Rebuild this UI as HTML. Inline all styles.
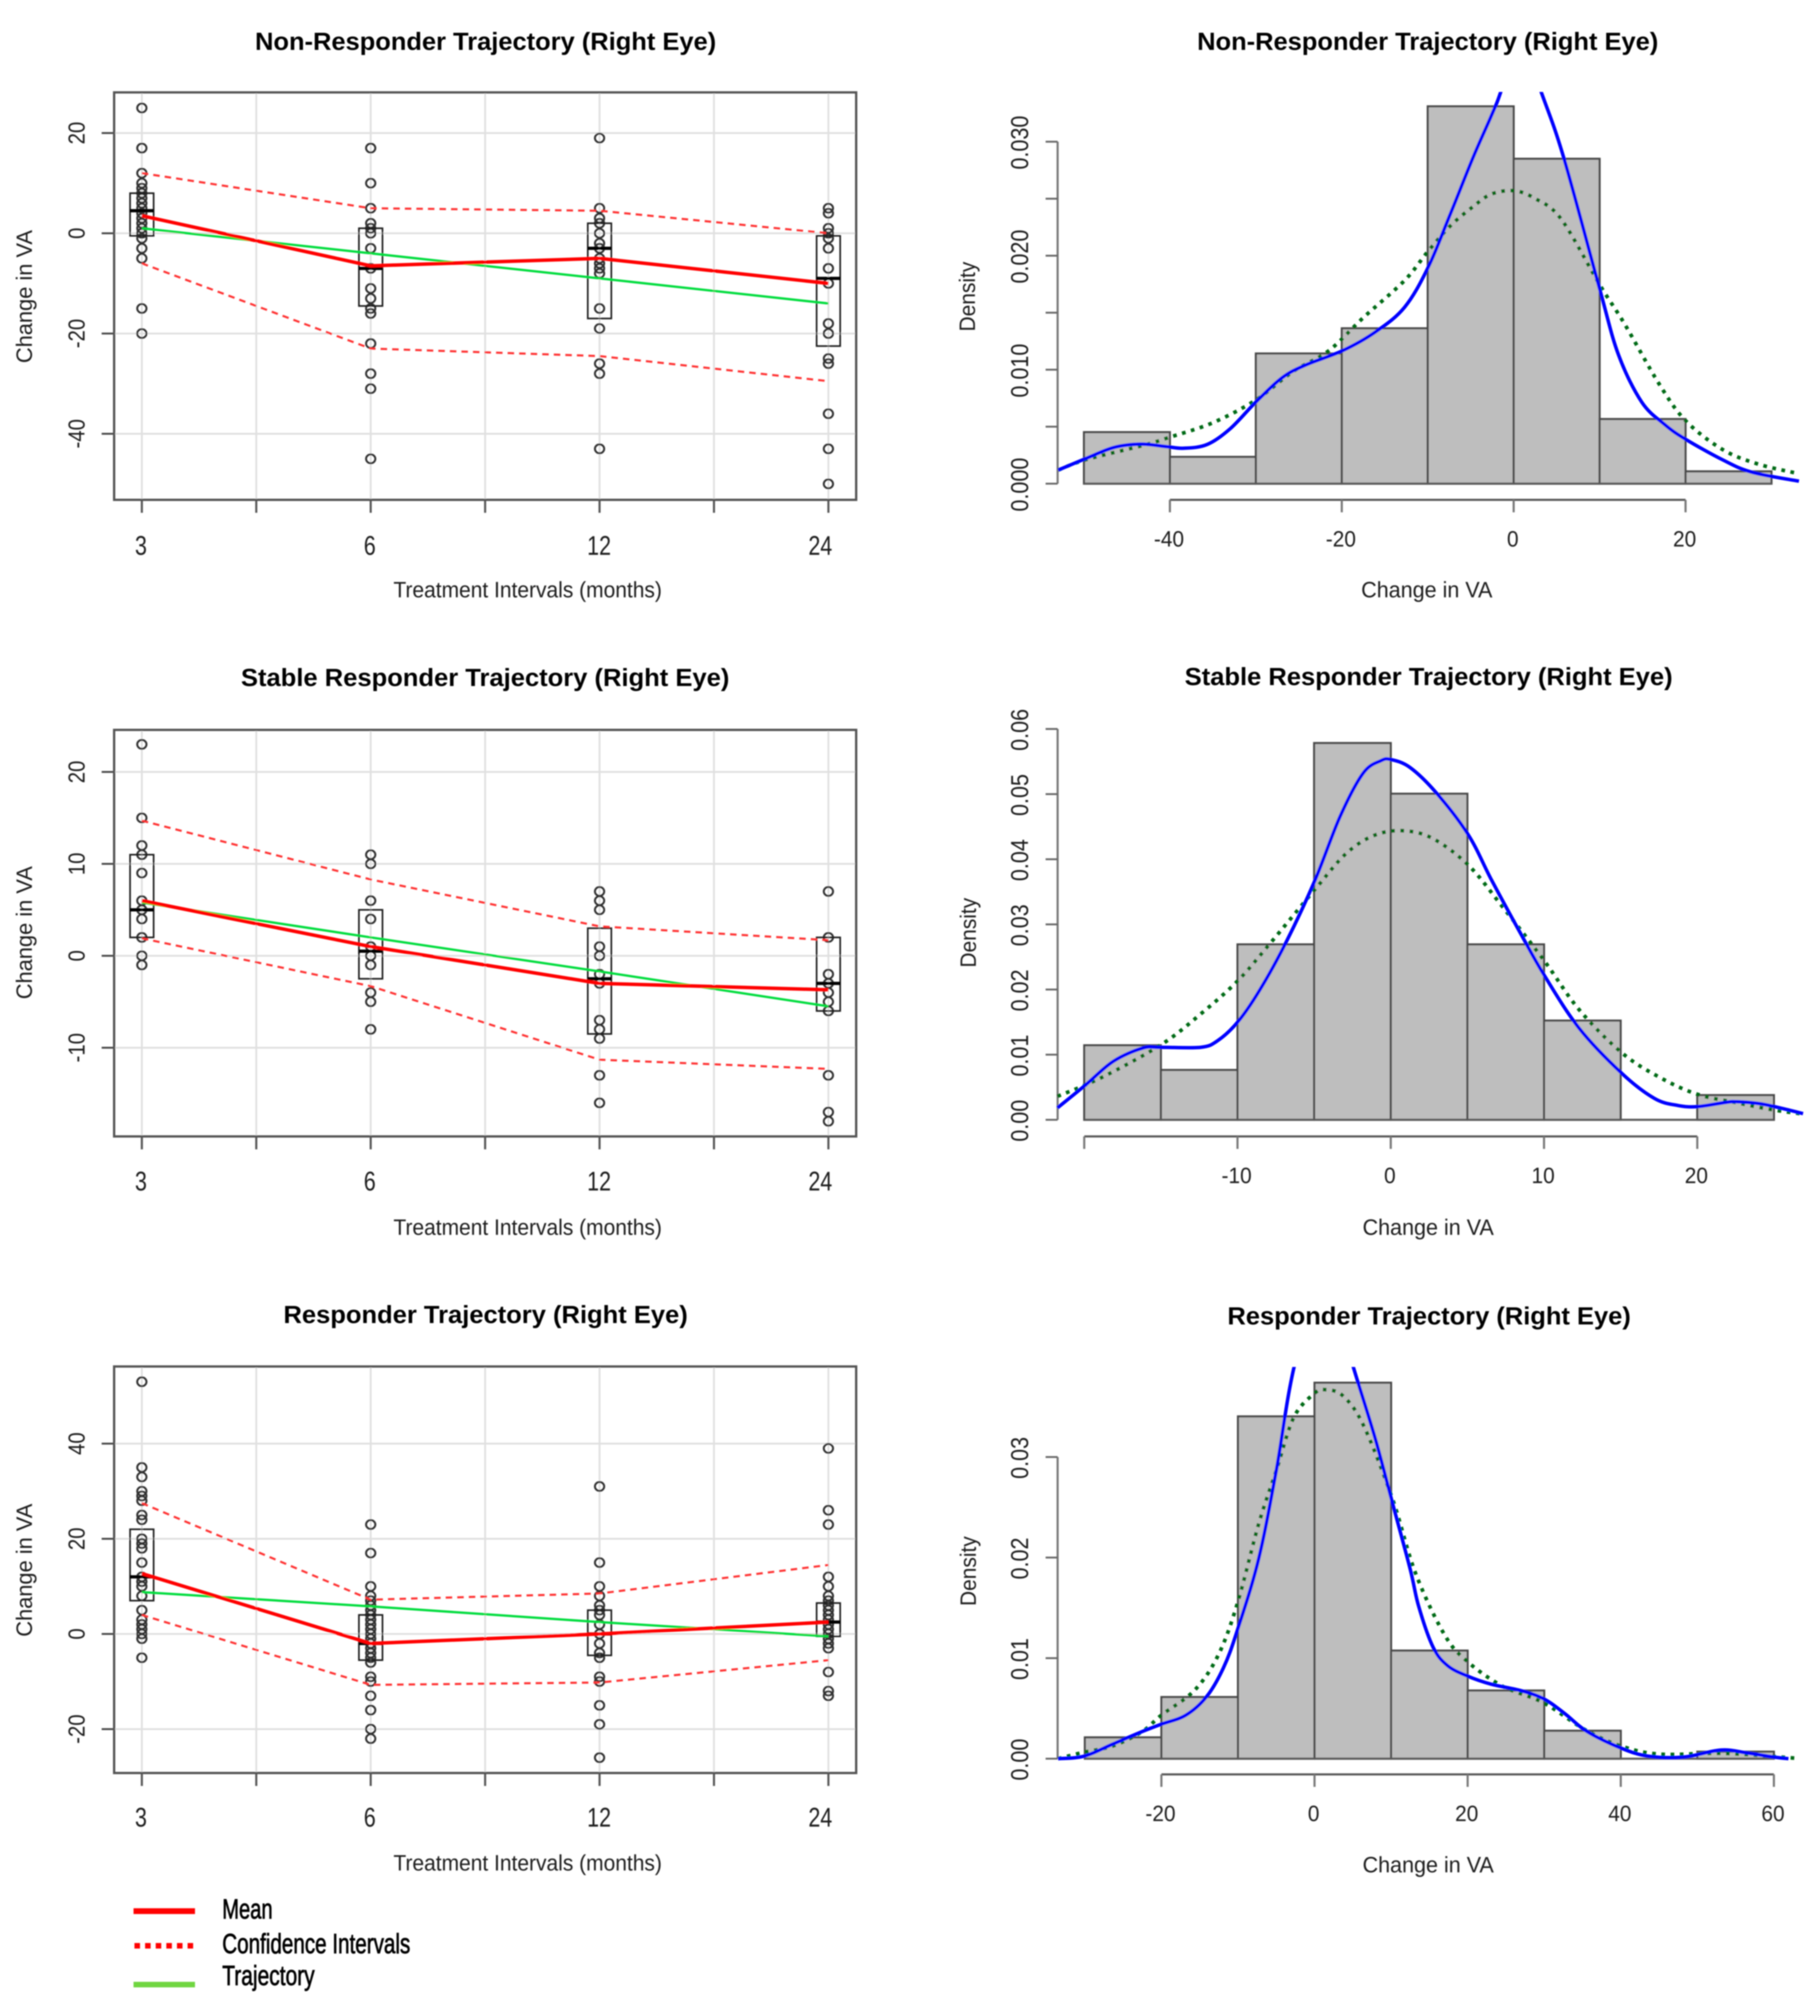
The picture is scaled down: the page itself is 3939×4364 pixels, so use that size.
<!DOCTYPE html>
<html lang="en">
<head>
<meta charset="utf-8">
<title>Responder Trajectories (Right Eye)</title>
<style>
html,body{margin:0;padding:0;background:#fff;}
svg{display:block;}
text{font-family:"Liberation Sans",sans-serif;fill:#1a1a1a;}
.title{font-weight:bold;font-size:54px;fill:#000;}
.axt{font-size:48px;}
.leg{font-size:60px;fill:#000;stroke:#000;stroke-width:1.4px;}
</style>
</head>
<body>
<svg id="figure" xmlns="http://www.w3.org/2000/svg" width="3939" height="4364" viewBox="0 0 3939 4364">
<defs>
<filter id="soft" x="0" y="0" width="100%" height="100%" filterUnits="userSpaceOnUse"><feGaussianBlur stdDeviation="1.3"/></filter>
<clipPath id="clip-h1"><rect x="2200" y="199" width="1739" height="1000"/></clipPath>
<clipPath id="clip-h2"><rect x="2200" y="1579" width="1739" height="1000"/></clipPath>
<clipPath id="clip-h3"><rect x="2200" y="2959" width="1739" height="1000"/></clipPath>
</defs>
<rect width="3939" height="4364" fill="#fff"/>
<g id="root" filter="url(#soft)">
<g id="static-text">
<text class="title" x="1051" y="108" text-anchor="middle" textLength="998" lengthAdjust="spacingAndGlyphs">Non-Responder Trajectory (Right Eye)</text>
<text class="title" x="3090" y="108" text-anchor="middle" textLength="998" lengthAdjust="spacingAndGlyphs">Non-Responder Trajectory (Right Eye)</text>
<text class="title" x="1050" y="1485" text-anchor="middle" textLength="1057" lengthAdjust="spacingAndGlyphs">Stable Responder Trajectory (Right Eye)</text>
<text class="title" x="3092" y="1483" text-anchor="middle" textLength="1056" lengthAdjust="spacingAndGlyphs">Stable Responder Trajectory (Right Eye)</text>
<text class="title" x="1051" y="2864" text-anchor="middle" textLength="875" lengthAdjust="spacingAndGlyphs">Responder Trajectory (Right Eye)</text>
<text class="title" x="3093" y="2867" text-anchor="middle" textLength="873" lengthAdjust="spacingAndGlyphs">Responder Trajectory (Right Eye)</text>

<text class="axt" x="1142" y="1293" text-anchor="middle" textLength="581" lengthAdjust="spacingAndGlyphs">Treatment Intervals (months)</text>
<text class="axt" x="1142" y="2673" text-anchor="middle" textLength="581" lengthAdjust="spacingAndGlyphs">Treatment Intervals (months)</text>
<text class="axt" x="1142" y="4049" text-anchor="middle" textLength="581" lengthAdjust="spacingAndGlyphs">Treatment Intervals (months)</text>

<text class="axt" transform="translate(69 642) rotate(-90)" text-anchor="middle" textLength="288" lengthAdjust="spacingAndGlyphs">Change in VA</text>
<text class="axt" transform="translate(69 2019) rotate(-90)" text-anchor="middle" textLength="288" lengthAdjust="spacingAndGlyphs">Change in VA</text>
<text class="axt" transform="translate(69 3399) rotate(-90)" text-anchor="middle" textLength="288" lengthAdjust="spacingAndGlyphs">Change in VA</text>

<text class="axt" x="3088" y="1293" text-anchor="middle" textLength="284" lengthAdjust="spacingAndGlyphs">Change in VA</text>
<text class="axt" x="3091" y="2673" text-anchor="middle" textLength="284" lengthAdjust="spacingAndGlyphs">Change in VA</text>
<text class="axt" x="3091" y="4053" text-anchor="middle" textLength="284" lengthAdjust="spacingAndGlyphs">Change in VA</text>

<text class="axt" transform="translate(2110 642) rotate(-90)" text-anchor="middle" textLength="151" lengthAdjust="spacingAndGlyphs">Density</text>
<text class="axt" transform="translate(2112 2019) rotate(-90)" text-anchor="middle" textLength="151" lengthAdjust="spacingAndGlyphs">Density</text>
<text class="axt" transform="translate(2112 3401) rotate(-90)" text-anchor="middle" textLength="151" lengthAdjust="spacingAndGlyphs">Density</text>
</g>
<g id="legend">
<g>
<line x1="289" x2="422" y1="4137" y2="4137" stroke="#ff0000" stroke-width="12.5"/>
<text class="leg" x="481" y="4153" textLength="109" lengthAdjust="spacingAndGlyphs">Mean</text>
</g>
<g>
<line x1="291" x2="421" y1="4212" y2="4212" stroke="#ff0000" stroke-width="12" stroke-dasharray="12 11"/>
<text class="leg" x="481" y="4228" textLength="407" lengthAdjust="spacingAndGlyphs">Confidence Intervals</text>
</g>
<g>
<line x1="289" x2="422" y1="4296" y2="4296" stroke="#6fd63f" stroke-width="12"/>
<text class="leg" x="481" y="4297" textLength="200" lengthAdjust="spacingAndGlyphs">Trajectory</text>
</g>
</g>
</g>
</svg>
<script>
/* ---------- categories ---------- */
const months = ['3', '6', '12', '24'];

/* ---------- non-responder: trajectory panel ---------- */
const nrScatter3 = [25,17,12,10,9,8,7,6,5,4,3,2,1,0,-1,-3,-5,-15,-20];
const nrScatter6 = [17,10,5,2,1,0,-3,-7,-11,-13,-15,-16,-22,-28,-31,-45];
const nrScatter12 = [19,5,3,2,0,-2,-3,-5,-6,-7,-8,-15,-19,-26,-28,-43];
const nrScatter24 = [5,4,1,0,-1,-3,-7,-10,-18,-20,-25,-26,-36,-43,-50];
const nrQ1 = [-0.5,-14.5,-17,-22.5];
const nrMedian = [4.5,-7,-3,-9];
const nrQ3 = [8,1,2,-0.5];
const nrMean = [3.5,-6.5,-5,-10];
const nrUpper = [12,5,4.5,0];
const nrLower = [-6,-23,-24.5,-29.5];
const nrTrajectory = [1,-4,-9,-14];
const nrYTicks = [20,0,-20,-40];

/* ---------- stable responder: trajectory panel ---------- */
const srScatter3 = [23,15,12,11,9,6,5,4,2,0,-1];
const srScatter6 = [11,10,6,4,1,0,-1,-4,-5,-8];
const srScatter12 = [7,6,5,1,0,-2,-3,-7,-8,-9,-13,-16];
const srScatter24 = [7,2,-2,-3,-4,-5,-6,-13,-17,-18];
const srQ1 = [2,-2.5,-8.5,-6];
const srMedian = [5,0.5,-2.5,-3];
const srQ3 = [11,5,3,2];
const srMean = [6,1,-3,-3.7];
const srUpper = [14.7,8.3,3.2,1.7];
const srLower = [1.9,-3.3,-11.3,-12.3];
const srTrajectory = [5.8,2,-1.7,-5.5];
const srYTicks = [20,10,0,-10];

/* ---------- responder: trajectory panel ---------- */
const rsScatter3 = [53,35,33,30,29,28,25,24,20,19,18,15,12,11,10,8,5,3,2,1,0,-1,-5];
const rsScatter6 = [23,17,10,8,7,6,5,4,3,2,1,0,-1,-2,-3,-4,-5,-6,-9,-10,-13,-16,-20,-22];
const rsScatter12 = [31,15,10,8,6,5,4,2,0,-2,-4,-5,-9,-10,-15,-19,-26];
const rsScatter24 = [39,26,23,12,10,8,7,6,5,4,3,2,1,0,-1,-2,-3,-8,-12,-13];
const rsQ1 = [7,-5.5,-4.5,-0.5];
const rsMedian = [12,-2,0,2.5];
const rsQ3 = [22,4,5,6.5];
const rsMean = [12.7,-2,0,2.5];
const rsUpper = [27.5,7.2,8.5,14.5];
const rsLower = [4,-10.7,-10.2,-5.5];
const rsTrajectory = [8.8,5.8,2.5,-0.5];
const rsYTicks = [40,20,0,-20];

/* ---------- non-responder: histogram ---------- */
const nrBinEdges = [-50,-40,-30,-20,-10,0,10,20,30];
const nrDensity = [0.00452,0.00235,0.01142,0.01363,0.0331,0.0285,0.00567,0.00108];
const nrKdeX = [-53,-49.8,-46.5,-43.4,-40.4,-38.4,-35.7,-33,-30,-26.9,-24.2,-19.9,-16.1,-12.7,-10,-7.4,-4.7,-2.6,-1.5,0.7,3.2,5.8,10,12.2,14.9,17.6,20,24.3,27.7,33.2];
const nrKdeY = [0.00119,0.0022,0.00318,0.00347,0.00325,0.00311,0.00343,0.00481,0.00716,0.00932,0.01041,0.01167,0.0133,0.01547,0.0189,0.0236,0.02866,0.03227,0.03437,0.0395,0.03437,0.02866,0.0171,0.0113,0.00716,0.00517,0.0039,0.0021,0.00101,0.00022];
const nrFitX = [-53,-49.8,-43.1,-40,-35,-30,-25.6,-21.5,-17.5,-12.7,-10,-7.4,-4.7,-2.6,0,2.4,5.5,10,12.9,16.9,20,24.3,28.4,32.8];
const nrFitY = [0.00119,0.0021,0.00336,0.00408,0.00535,0.00734,0.00987,0.01167,0.01456,0.01782,0.02035,0.02259,0.02432,0.0254,0.0257,0.02505,0.02324,0.01746,0.01402,0.00878,0.00553,0.003,0.00173,0.00094];
const nrXTicks = [-40,-20,0,20];
const nrXTickLabels = ['-40','-20','0','20'];
const nrDensityTicks = [0,0.005,0.01,0.015,0.02,0.025,0.03];
const nrDensityLabels = ['0.000','','0.010','','0.020','','0.030'];

/* ---------- stable responder: histogram ---------- */
const srBinEdges = [-20,-15,-10,-5,0,5,10,15,20,25];
const srDensity = [0.01144,0.00765,0.02693,0.05784,0.05006,0.02693,0.01523,0,0.00379];
const srKdeX = [-21.75,-20,-18.1,-16.2,-15,-12.4,-11.3,-10,-8.6,-6.9,-5,-3.3,-1.8,-0.65,0,1.25,2.97,5.06,6.58,8.48,10,12.3,15.1,17.2,18.7,20,21.8,22.5,24.1,25.6,26.9];
const srKdeY = [0.00183,0.00518,0.00898,0.011,0.01113,0.01113,0.01214,0.01498,0.01972,0.02693,0.03647,0.04659,0.05322,0.05512,0.05531,0.0541,0.0502,0.04375,0.03679,0.02857,0.02225,0.01403,0.00708,0.00329,0.00221,0.00202,0.00265,0.00278,0.00247,0.00171,0.00095];
const srFitX = [-21.75,-18.9,-15,-12.4,-10,-7.9,-5,-2.9,-1,0.9,2.8,5.1,7.3,10,12.3,15.1,17.6,20,22.5,24.8,26.7];
const srFitY = [0.0036,0.00645,0.0115,0.01625,0.0213,0.027,0.03521,0.0409,0.04374,0.04437,0.04311,0.039,0.03268,0.02446,0.01688,0.01024,0.00645,0.00392,0.00265,0.00158,0.00095];
const srXTicks = [-20,-10,0,10,20];
const srXTickLabels = ['','-10','0','10','20'];
const srDensityTicks = [0,0.01,0.02,0.03,0.04,0.05,0.06];
const srDensityLabels = ['0.00','0.01','0.02','0.03','0.04','0.05','0.06'];

/* ---------- responder: histogram ---------- */
const rsBinEdges = [-30,-20,-10,0,10,20,30,40,50,60];
const rsDensity = [0.00212,0.00613,0.03404,0.03739,0.01075,0.00678,0.00278,0,0.0007];
const rsKdeX = [-33.5,-30.1,-26.3,-22.5,-20,-16.8,-14.1,-11.9,-10.1,-7.3,-5,-2.7,1.1,5.1,7.9,10.2,12.5,13.6,15.5,17.4,20,23.1,26.9,29.9,32.6,35.6,40,43.6,48.2,53.1,56.5,60,61.9];
const rsKdeY = [0,0.00025,0.00147,0.0027,0.00343,0.00433,0.00617,0.00903,0.01271,0.01986,0.02865,0.03886,0.049,0.03886,0.03192,0.02538,0.01884,0.01516,0.01107,0.00924,0.00821,0.0074,0.00678,0.00597,0.00454,0.0027,0.00106,0.00025,0.00016,0.00086,0.00057,0.00016,0];
const rsFitX = [-33.5,-30.1,-26.3,-22.5,-20,-15.7,-12.6,-10.1,-7.3,-5,-2.7,0,1.4,3.7,6.4,10.2,13.2,17,20,24.6,29.9,35.3,40,45.1,53.5,63];
const rsFitY = [0,0.00065,0.00127,0.0027,0.00433,0.00678,0.01026,0.01537,0.02333,0.02865,0.03396,0.03633,0.0367,0.03609,0.03314,0.02579,0.01843,0.0123,0.00964,0.00719,0.00556,0.0029,0.00127,0.00045,0.00053,0.00004];
const rsXTicks = [-20,0,20,40,60];
const rsXTickLabels = ['-20','0','20','40','60'];
const rsDensityTicks = [0,0.01,0.02,0.03];
const rsDensityLabels = ['0.00','0.01','0.02','0.03'];

/* ---------- drawing helpers ---------- */
const NS = 'http://www.w3.org/2000/svg';
const root = document.getElementById('root');
function mk(tag, attrs, parent) {
  const el = document.createElementNS(NS, tag);
  for (const k in attrs) el.setAttribute(k, attrs[k]);
  parent.appendChild(el);
  return el;
}
function smooth(pts) {
  let d = 'M' + pts[0][0].toFixed(1) + ' ' + pts[0][1].toFixed(1);
  for (let i = 0; i < pts.length - 1; i++) {
    const p0 = pts[Math.max(0, i - 1)], p1 = pts[i], p2 = pts[i + 1], p3 = pts[Math.min(pts.length - 1, i + 2)];
    const c1x = p1[0] + (p2[0] - p0[0]) / 6, c1y = p1[1] + (p2[1] - p0[1]) / 6;
    const c2x = p2[0] - (p3[0] - p1[0]) / 6, c2y = p2[1] - (p3[1] - p1[1]) / 6;
    d += 'C' + c1x.toFixed(1) + ' ' + c1y.toFixed(1) + ' ' + c2x.toFixed(1) + ' ' + c2y.toFixed(1) + ' ' + p2[0].toFixed(1) + ' ' + p2[1].toFixed(1);
  }
  return d;
}

/* ---------- trajectory panel ---------- */
function drawTrajectory(cfg) {
  const LEFT = 247, RIGHT = 1853;
  const xAt = i => 307 + i * 495.3;
  const yAt = v => cfg.zeroY - v * cfg.pxPerUnit;
  const g = mk('g', {}, root);
  
  

  for (let i = 0; i < 7; i++) {
    const gl = mk('line', {x1: xAt(i / 2), x2: xAt(i / 2), y1: cfg.top, y2: cfg.bottom, stroke: '#e0e0e0', 'stroke-width': 4}, g);
    
    
    const t = mk('line', {x1: xAt(i / 2), x2: xAt(i / 2), y1: cfg.bottom, y2: cfg.bottom + 28, stroke: '#555', 'stroke-width': 4.5}, g);
    
    
  }
  cfg.yTicks.forEach(v => {
    const gl = mk('line', {x1: LEFT, x2: RIGHT, y1: yAt(v), y2: yAt(v), stroke: '#e0e0e0', 'stroke-width': 4}, g);
    
    
    const t = mk('line', {x1: LEFT - 27, x2: LEFT, y1: yAt(v), y2: yAt(v), stroke: '#444', 'stroke-width': 4}, g);
    
    
    const lb = mk('text', {transform: 'translate(183 ' + yAt(v) + ') rotate(-90) scale(.88 1)', 'text-anchor': 'middle', 'font-size': 50}, g);
    
    
    lb.textContent = String(v);
  });

  const frame = mk('rect', {x: LEFT, y: cfg.top, width: RIGHT - LEFT, height: cfg.bottom - cfg.top, fill: 'none', stroke: '#555', 'stroke-width': 5}, g);
  
  

  const shift = [-2, -2, -1, -17.5];
  months.forEach((m, i) => {
    const lb = mk('text', {transform: 'translate(' + (xAt(i) + shift[i]) + ' ' + cfg.labelY + ') scale(.8 1)', 'text-anchor': 'middle', 'font-size': 58}, g);
    
    
    lb.textContent = m;
  });

  cfg.scatter.forEach((vals, i) => {
    vals.forEach(v => {
      const c = mk('ellipse', {cx: xAt(i), cy: yAt(v), rx: 10, ry: 9.5, fill: 'none', stroke: '#303030', 'stroke-width': 4.3}, g);
      
      
    });
    const hw = 25.5;
    const b = mk('rect', {x: xAt(i) - hw, y: yAt(cfg.q3[i]), width: 2 * hw, height: yAt(cfg.q1[i]) - yAt(cfg.q3[i]), fill: 'none', stroke: '#1a1a1a', 'stroke-width': 3.5}, g);
    
    
    const md = mk('line', {x1: xAt(i) - hw, x2: xAt(i) + hw, y1: yAt(cfg.median[i]), y2: yAt(cfg.median[i]), stroke: '#000', 'stroke-width': 7}, g);
    
    
  });

  const poly = arr => arr.map((v, i) => xAt(i).toFixed(1) + ',' + yAt(v).toFixed(1)).join(' ');
  const up = mk('polyline', {points: poly(cfg.upper), fill: 'none', stroke: '#ff3030', 'stroke-width': 4.5, 'stroke-dasharray': '14 11'}, g);
  
  
  const lo = mk('polyline', {points: poly(cfg.lower), fill: 'none', stroke: '#ff3030', 'stroke-width': 4.5, 'stroke-dasharray': '14 11'}, g);
  
  
  const tr = mk('polyline', {points: poly(cfg.trajectory), fill: 'none', stroke: '#00dc3c', 'stroke-width': 5}, g);
  
  
  const mn = mk('polyline', {points: poly(cfg.mean), fill: 'none', stroke: '#ff0000', 'stroke-width': 7.5}, g);
  
  
}

/* ---------- histogram panel ---------- */
function drawHistogram(cfg) {
  const AXIS_X = 2289;
  const xAt = v => cfg.zeroX + v * cfg.pxPerX;
  const yAt = d => cfg.baseY - d * cfg.pxPerDensity;
  const g = mk('g', {}, root);
  
  

  cfg.density.forEach((d, i) => {
    if (d <= 0) return;
    const b = mk('rect', {x: xAt(cfg.edges[i]), y: yAt(d), width: xAt(cfg.edges[i + 1]) - xAt(cfg.edges[i]), height: cfg.baseY - yAt(d), fill: '#bebebe', stroke: '#4a4a4a', 'stroke-width': 4.5}, g);
    
    
  });
  const base = mk('line', {x1: xAt(cfg.edges[0]), x2: xAt(cfg.edges[cfg.edges.length - 1]), y1: cfg.baseY, y2: cfg.baseY, stroke: '#5a5a5a', 'stroke-width': 4.5}, g);
  
  

  const yLine = mk('line', {x1: AXIS_X, x2: AXIS_X, y1: yAt(cfg.yTicks[cfg.yTicks.length - 1]), y2: yAt(0), stroke: '#777', 'stroke-width': 4.5}, g);
  
  
  cfg.yTicks.forEach((d, i) => {
    const t = mk('line', {x1: AXIS_X - 26, x2: AXIS_X, y1: yAt(d), y2: yAt(d), stroke: '#666', 'stroke-width': 4}, g);
    
    
    if (cfg.yLabels[i]) {
      const lb = mk('text', {transform: 'translate(2225 ' + (yAt(d) + 2) + ') rotate(-90) scale(.88 1)', 'text-anchor': 'middle', 'font-size': 53}, g);
      
      
      lb.textContent = cfg.yLabels[i];
    }
  });

  const xt = cfg.xTicks;
  const xLine = mk('line', {x1: xAt(xt[0]), x2: xAt(xt[xt.length - 1]), y1: cfg.axisY, y2: cfg.axisY, stroke: '#555', 'stroke-width': 4.5}, g);
  
  
  xt.forEach((v, i) => {
    const t = mk('line', {x1: xAt(v), x2: xAt(v), y1: cfg.axisY, y2: cfg.axisY + 27, stroke: '#777', 'stroke-width': 4.5}, g);
    
    
    if (cfg.xLabels[i]) {
      const lb = mk('text', {transform: 'translate(' + (xAt(v) - 2) + ' ' + cfg.labelY + ') scale(.94 1)', 'text-anchor': 'middle', 'font-size': 48}, g);
      
      
      lb.textContent = cfg.xLabels[i];
    }
  });

  const fit = mk('path', {d: smooth(cfg.fitX.map((x, i) => [xAt(x), yAt(cfg.fitY[i])])), fill: 'none', stroke: '#006a14', 'stroke-width': 8, 'stroke-dasharray': '8 12', 'clip-path': 'url(#' + cfg.clip + ')'}, g);
  
  
  const kde = mk('path', {d: smooth(cfg.kdeX.map((x, i) => [xAt(x), yAt(cfg.kdeY[i])])), fill: 'none', stroke: '#0000ff', 'stroke-width': 7.5, 'clip-path': 'url(#' + cfg.clip + ')'}, g);
  
  
}

/* ---------- panels ---------- */
drawTrajectory({name: 'non-responder', top: 200, bottom: 1082, zeroY: 505, pxPerUnit: 10.85, labelY: 1201, yTicks: nrYTicks,
  scatter: [nrScatter3, nrScatter6, nrScatter12, nrScatter24], q1: nrQ1, median: nrMedian, q3: nrQ3, mean: nrMean, upper: nrUpper, lower: nrLower, trajectory: nrTrajectory});
drawTrajectory({name: 'stable-responder', top: 1580, bottom: 2460, zeroY: 2069, pxPerUnit: 19.9, labelY: 2577, yTicks: srYTicks,
  scatter: [srScatter3, srScatter6, srScatter12, srScatter24], q1: srQ1, median: srMedian, q3: srQ3, mean: srMean, upper: srUpper, lower: srLower, trajectory: srTrajectory});
drawTrajectory({name: 'responder', top: 2958, bottom: 3838, zeroY: 3537, pxPerUnit: 10.3, labelY: 3954, yTicks: rsYTicks,
  scatter: [rsScatter3, rsScatter6, rsScatter12, rsScatter24], q1: rsQ1, median: rsMedian, q3: rsQ3, mean: rsMean, upper: rsUpper, lower: rsLower, trajectory: rsTrajectory});

drawHistogram({name: 'non-responder', zeroX: 3276, pxPerX: 18.6, baseY: 1047, pxPerDensity: 24677, axisY: 1082, labelY: 1183, clip: 'clip-h1',
  edges: nrBinEdges, density: nrDensity, kdeX: nrKdeX, kdeY: nrKdeY, fitX: nrFitX, fitY: nrFitY, xTicks: nrXTicks, xLabels: nrXTickLabels, yTicks: nrDensityTicks, yLabels: nrDensityLabels});
drawHistogram({name: 'stable-responder', zeroX: 3010, pxPerX: 33.17, baseY: 2424, pxPerDensity: 14100, axisY: 2460, labelY: 2561, clip: 'clip-h2',
  edges: srBinEdges, density: srDensity, kdeX: srKdeX, kdeY: srKdeY, fitX: srFitX, fitY: srFitY, xTicks: srXTicks, xLabels: srXTickLabels, yTicks: srDensityTicks, yLabels: srDensityLabels});
drawHistogram({name: 'responder', zeroX: 2845, pxPerX: 16.57, baseY: 3807, pxPerDensity: 21767, axisY: 3841, labelY: 3942, clip: 'clip-h3',
  edges: rsBinEdges, density: rsDensity, kdeX: rsKdeX, kdeY: rsKdeY, fitX: rsFitX, fitY: rsFitY, xTicks: rsXTicks, xLabels: rsXTickLabels, yTicks: rsDensityTicks, yLabels: rsDensityLabels});
</script>
</body>
</html>
